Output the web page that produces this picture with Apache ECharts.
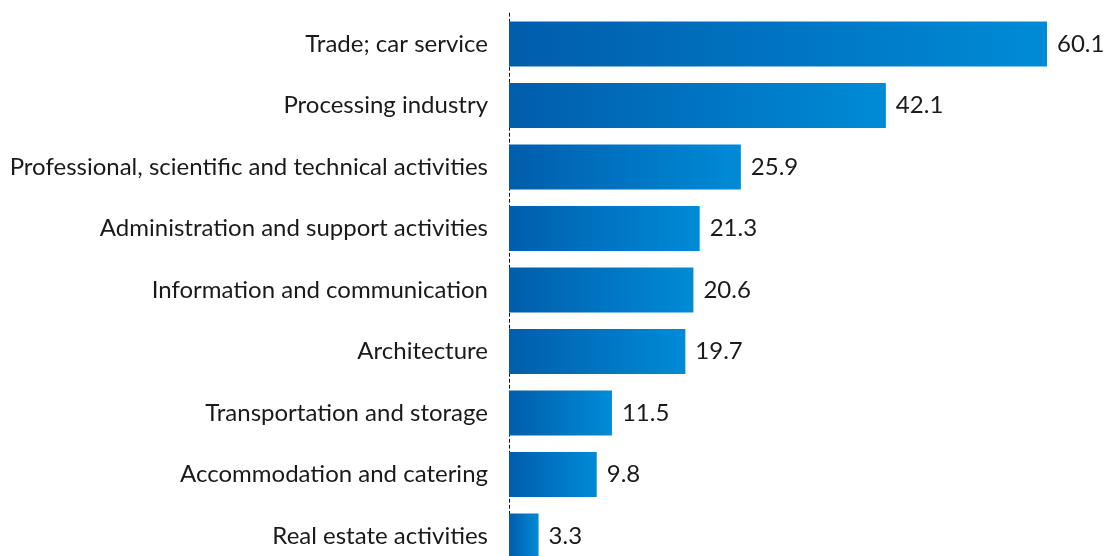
<!DOCTYPE html>
<html><head><meta charset="utf-8">
<script src="https://cdn.jsdelivr.net/npm/echarts@6/dist/echarts.min.js"></script>
<style>html,body{margin:0;padding:0;background:#fff}#c{width:1106px;height:556px}</style>
</head><body><div id="c"></div>
<script>
var categories = ["Trade; car service","Processing industry","Professional, scientific and technical activities","Administration and support activities","Information and communication","Architecture","Transportation and storage","Accommodation and catering","Real estate activities"];
var values = [60.1,42.1,25.9,21.3,20.6,19.7,11.5,9.8,3.3];

var chart = echarts.init(document.getElementById('c'));
chart.setOption({
  backgroundColor: '#ffffff',
  animation: false,
  grid: {left: 509, width: 597, top: 13.25, height: 553.5, containLabel: false, outerBoundsMode: 'none'},
  xAxis: {type: 'value', min: 0, max: 66.69, show: false},
  yAxis: {
    type: 'category', inverse: true, data: categories,
    axisLine: {show: true, lineStyle: {color: '#111', type: [3, 3], width: 1}},
    axisTick: {show: false},
    axisLabel: {color: '#1a1a1a', fontFamily: 'Lato', fontSize: 24, margin: 21}
  },
  series: [{
    type: 'bar', data: values, barWidth: 45,
    itemStyle: {color: new echarts.graphic.LinearGradient(0,0,1,0,[{offset:0,color:'#005dac'},{offset:1,color:'#008bd6'}])},
    label: {show: true, position: 'right', distance: 10, color: '#1a1a1a', fontFamily: 'Lato', fontSize: 24}
  }]
});
</script></body></html>
